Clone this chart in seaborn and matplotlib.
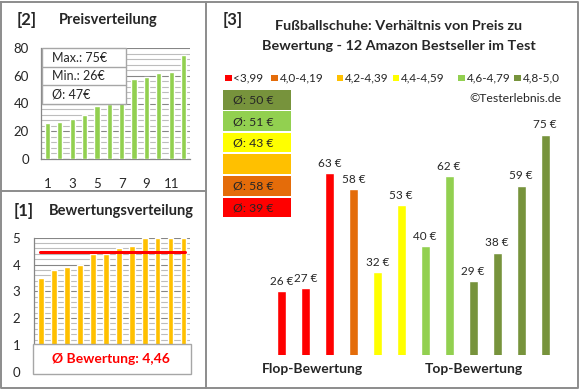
import matplotlib
matplotlib.use("Agg")
import matplotlib.pyplot as plt
from matplotlib.patches import Rectangle
from matplotlib.lines import Line2D
from matplotlib.ticker import MultipleLocator
import seaborn as sns
import pandas as pd

# ---------------- data ----------------
price_sorted = [26, 27, 29, 32, 38, 40, 53, 58, 59, 62, 63, 75]
rating_sorted = [3.5, 3.8, 3.9, 4.0, 4.4, 4.4, 4.6, 4.7, 5.0, 5.0, 5.0, 5.0]
rating_avg = 4.46
price_stats = ["Max.: 75€", "Min.: 26€", "Ø: 47€"]

products = [f"P{i+1}" for i in range(12)]
prices = [26, 27, 63, 58, 32, 53, 40, 62, 29, 38, 59, 75]
rating_class = [0, 0, 0, 1, 3, 3, 4, 4, 5, 5, 5, 5]

class_labels = ["<3,99", "4,0-4,19", "4,2-4,39", "4,4-4,59", "4,6-4,79", "4,8-5,0"]
class_colors = ["#FF0000", "#E46C0A", "#FFC000", "#FFFF00", "#92D050", "#77933C"]
class_avg = ["Ø: 39 €", "Ø: 58 €", "", "Ø: 43 €", "Ø: 51 €", "Ø: 50 €"]

# ---------------- style ----------------
sns.set_style("white")
plt.rcParams['font.family'] = ['Lato', 'DejaVu Sans']

W, H = 580, 390
fig = plt.figure(figsize=(5.8, 3.9), dpi=100)
fig.patch.set_facecolor("white")

def fx(px):
    return px / W

def fy(py):
    return 1 - py / H

def axes_px(l, t, r, b):
    return fig.add_axes([l / W, 1 - b / H, (r - l) / W, (b - t) / H])

def ftext(x, y, s, **kw):
    kw.setdefault("va", "center")
    return fig.text(fx(x), fy(y), s, **kw)

def frect(l, t, r, b, **kw):
    rect = Rectangle((fx(l), fy(b)), (r - l) / W, (b - t) / H,
                     transform=fig.transFigure, **kw)
    fig.add_artist(rect)
    return rect

def fline(xs, ys, **kw):
    fig.add_artist(Line2D([fx(x) for x in xs], [fy(y) for y in ys],
                          transform=fig.transFigure, **kw))

border = "#8C8C8C"
# panel borders
fline([1, 577.5, 577.5, 1, 1], [1.5, 1.5, 388, 388, 1.5], color=border, lw=1.4, zorder=5)
fline([205.5, 205.5], [1.5, 388], color=border, lw=1.4, zorder=5)
fline([1, 205.5], [191, 191], color=border, lw=1.4, zorder=5)

# ---------------- [2] Preisverteilung ----------------
ax1 = axes_px(41.3, 48, 189.7, 159)
df1 = pd.DataFrame({"pos": [str(i + 1) for i in range(12)], "price": price_sorted})
sns.barplot(data=df1, x="pos", y="price", color="#92D050", width=0.42,
            saturation=1, ax=ax1, zorder=3)
ax1.set_ylim(0, 80)
ax1.yaxis.set_major_locator(MultipleLocator(20))
ax1.yaxis.set_minor_locator(MultipleLocator(4))
ax1.grid(axis="y", which="major", color="#868686", lw=0.8, zorder=0)
ax1.grid(axis="y", which="minor", color="#BDBDBD", lw=0.8, zorder=0)
ax1.set_axisbelow(True)
ax1.set_xticks(range(0, 12, 2))
ax1.set_xticklabels([str(i) for i in range(1, 12, 2)])
ax1.set_xlabel("")
ax1.set_ylabel("")
ax1.tick_params(axis="x", length=0, pad=14, labelsize=9.5)
ax1.tick_params(axis="y", which="both", length=0, pad=9, labelsize=9.5)
for s in ["top", "right"]:
    ax1.spines[s].set_visible(False)
for s in ["left", "bottom"]:
    ax1.spines[s].set_color("#868686")
    ax1.spines[s].set_linewidth(0.9)

ftext(27, 20, "[2]", ha="center", fontsize=12, fontweight="bold")
ftext(108, 20, "Preisverteilung", ha="center", fontsize=10.5, fontweight="bold")

# stats box
frect(42, 48, 126, 104, facecolor="white", edgecolor="#A6A6A6", lw=1, zorder=6)
fline([42, 126], [66.5, 66.5], color="#A6A6A6", lw=1, zorder=7)
fline([42, 126], [84.5, 84.5], color="#A6A6A6", lw=1, zorder=7)
for row, txt in zip([57.5, 75.5, 94.5], price_stats):
    ftext(51.5, row, txt, ha="left", fontsize=9, zorder=8)

# ---------------- [1] Bewertungsverteilung ----------------
ax2 = axes_px(34.3, 237.7, 190, 371.7)
df2 = pd.DataFrame({"pos": [str(i + 1) for i in range(12)], "rating": rating_sorted})
sns.barplot(data=df2, x="pos", y="rating", color="#FFC000", width=0.45,
            saturation=1, ax=ax2, zorder=3)
ax2.set_ylim(0, 5)
ax2.yaxis.set_major_locator(MultipleLocator(1))
ax2.yaxis.set_minor_locator(MultipleLocator(0.2))
ax2.grid(axis="y", which="major", color="#868686", lw=0.8, zorder=0)
ax2.grid(axis="y", which="minor", color="#BDBDBD", lw=0.8, zorder=0)
ax2.set_axisbelow(True)
ax2.axhline(rating_avg, xmin=0.035, xmax=0.965, color="#FF0000", lw=2.2, zorder=4)
ax2.set_xticks([])
ax2.set_xlabel("")
ax2.set_ylabel("")
ax2.tick_params(axis="y", which="major", length=3, color="#868686", pad=7, labelsize=9.5)
ax2.tick_params(axis="y", which="minor", length=0)
for s in ["top", "right", "bottom"]:
    ax2.spines[s].set_visible(False)
ax2.spines["left"].set_color("#868686")
ax2.spines["left"].set_linewidth(0.9)

ftext(23.5, 211.5, "[1]", ha="center", fontsize=12, fontweight="bold")
ftext(121.5, 211.5, "Bewertungsverteilung", ha="center", fontsize=10.5, fontweight="bold")

frect(33, 344, 191, 374, facecolor="white", edgecolor="#A6A6A6", lw=1, zorder=6)
ftext(111, 359, "Ø Bewertung: " + f"{rating_avg:.2f}".replace(".", ","), ha="center",
      fontsize=10, fontweight="bold", color="#FF0000", zorder=8)

# ---------------- [3] Preis vs Bewertung ----------------
ax3 = axes_px(269.5, 118.6, 557, 354.7)
df3 = pd.DataFrame({"product": products, "price": prices,
                    "cls": [class_labels[c] for c in rating_class]})
sns.barplot(data=df3, x="product", y="price", hue="product",
            palette=[class_colors[c] for c in rating_class], width=0.375,
            saturation=1, legend=False, ax=ax3)
ax3.set_ylim(6, 80)
ax3.set_xlim(-0.5, 11.5)
ax3.axis("off")
for i, p in enumerate(prices):
    ax3.annotate(f"{p} €", (i, p), xytext=(0, 3), textcoords="offset points",
                 ha="center", va="bottom", fontsize=8.5)

ftext(233, 20, "[3]", ha="center", fontsize=12, fontweight="bold")
ftext(399, 26.5, "Fußballschuhe: Verhältnis von Preis zu", ha="center",
      fontsize=10.4, fontweight="bold")
ftext(399, 46, "Bewertung - 12 Amazon Bestseller im Test", ha="center",
      fontsize=10.4, fontweight="bold")

# legend row
leg_x = [225, 271, 336.7, 392.7, 458.3, 514]
for x, lab, col in zip(leg_x, class_labels, class_colors):
    frect(x, 74.5, x + 6.7, 81.2, facecolor=col, edgecolor="none", zorder=6)
    ftext(x + 8.5, 77.5, lab, ha="left", fontsize=8.5, zorder=6)

ftext(562, 98.5, "©Testerlebnis.de", ha="right", fontsize=8.8)

# average boxes (top: best class)
box_top = [90, 111.5, 133, 154.5, 176, 197.5]
for top, idx in zip(box_top, [5, 4, 3, 2, 1, 0]):
    frect(223, top, 291, top + 19.5, facecolor=class_colors[idx], edgecolor="none", zorder=6)
    if class_avg[idx]:
        ftext(233, top + 10, class_avg[idx], ha="left", fontsize=8.8, zorder=7)

ftext(312, 369, "Flop-Bewertung", ha="center", fontsize=10, fontweight="bold")
ftext(474, 369, "Top-Bewertung", ha="center", fontsize=10, fontweight="bold")

fig.savefig("out.png", dpi=100, facecolor="white")
